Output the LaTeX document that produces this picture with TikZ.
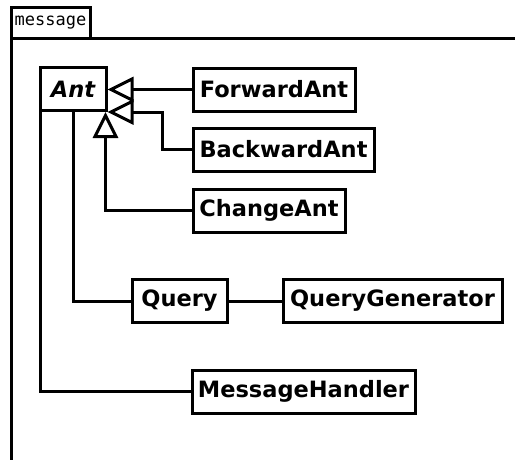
\documentclass[tikz,border=0pt]{standalone}
\usepackage{fontspec}
\setmainfont{DejaVu Sans}
\newfontfamily\monof{DejaVu Sans Mono}
\usetikzlibrary{arrows.meta}
\begin{document}
\begin{tikzpicture}[x=1pt,y=-1pt,
  lw/.style={line width=3pt},
  cls/.style={draw,lw,rectangle,inner sep=0pt,minimum height=43pt,font=\fontsize{22.5}{26}\selectfont\bfseries},
  conn/.style={lw},
  gen/.style={lw,-{Triangle[open,length=26pt,width=25pt,line width=3pt]}}]
\useasboundingbox (0,0) rectangle (515,459);
% package frame
\draw[lw] (11,470) -- (11,38) -- (525,38);
\node[draw,lw,inner sep=0pt,minimum width=79pt,minimum height=31pt,font=\monof\fontsize{17}{19}\selectfont] (pkg) at (50.5,22.5) {message};
% classes
\node[cls,minimum width=66pt,font=\fontsize{22.5}{26}\selectfont\bfseries\itshape] (Ant) at (73,89) {Ant};
\node[cls,minimum width=162pt] (FA) at (274,89.5) {ForwardAnt};
\node[cls,minimum width=181pt] (BA) at (283.5,149.5) {BackwardAnt};
\node[cls,minimum width=152pt] (CA) at (269,210.5) {ChangeAnt};
\node[cls,minimum width=95pt] (Q) at (179.5,301) {Query};
\node[cls,minimum width=219pt] (QG) at (392.5,301) {QueryGenerator};
\node[cls,minimum width=223pt] (MH) at (303.5,391.5) {MessageHandler};
% generalizations
\draw[gen] (FA.west) -- (FA.west -| Ant.east);
\draw[gen] (BA.west) -- (162,149.5) |- (Ant.south east);
\draw[gen] (CA.west) -| ([xshift=-2pt]Ant.south east);
% associations
\draw[conn] (Ant.south) |- (Q.west);
\draw[conn] (Q) -- (QG);
\draw[conn] ([xshift=1.5pt]Ant.south west) |- (MH.west);
\end{tikzpicture}
\end{document}
